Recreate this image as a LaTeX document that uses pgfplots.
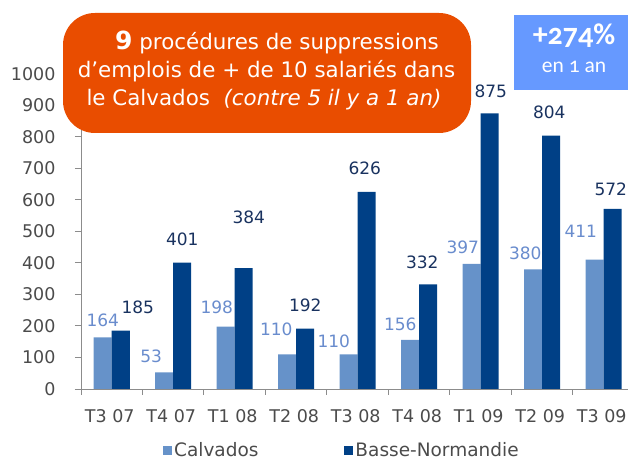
\documentclass[border=0pt]{standalone}
\usepackage{fontspec}
\setmainfont{DejaVu Sans}
\newfontfamily\carlito[Numbers=OldStyle]{Carlito}
\usepackage{pgfplots}
\usepackage{pgfplotstable}
\pgfplotsset{compat=1.18}
\definecolor{calv}{RGB}{102,146,201}
\definecolor{bn}{RGB}{0,64,134}
\definecolor{calvlab}{RGB}{105,140,205}
\definecolor{bnlab}{RGB}{25,50,95}
\definecolor{axisgray}{RGB}{140,140,140}
\definecolor{ticktext}{RGB}{75,75,75}
\definecolor{orangebox}{RGB}{233,77,0}
\definecolor{bluebox}{RGB}{102,153,255}
% x = quarter index, y = value, dx/dy = label offset (bp) from bar top
\pgfplotstableread{
x y dx dy
0 164 0 17
1 53 -13 16
2 198 -9 19
3 110 -11 25
4 110 -15 13
5 156 -10 16
6 397 -9 17
7 380 -8 16
8 411 -14 28
}\calvados
\pgfplotstableread{
x y dx dy
0 185 17 23
1 401 0 23
2 384 5 51
3 192 0 23
4 626 -2 23
5 332 -6 22
6 875 1 22
7 804 -2 23
8 572 -2 20
}\bassenormandie
\begin{document}
\begin{tikzpicture}
\path[use as bounding box] (0,0) rectangle (628bp,460bp);
\begin{axis}[
  at={(81bp,71bp)}, anchor=south west,
  scale only axis, width=553.5bp, height=315bp,
  xmin=-0.5, xmax=8.5, ymin=0, ymax=1000,
  axis lines*=left,
  axis line style={-, draw=axisgray, line width=1bp},
  x axis line style={-, shorten <=-6bp}, y axis line style={-},
  ytick={0,100,...,1000},
  xtick={0,...,8},
  xticklabels={T3 07,T4 07,T1 08,T2 08,T3 08,T4 08,T1 09,T2 09,T3 09},
  xtick style={draw=none},
  extra x ticks={-0.5,0.5,...,8.5},
  extra x tick labels={},
  extra x tick style={xtick style={draw=axisgray, line width=1bp}},
  tick align=outside, major tick length=6bp,
  ytick style={draw=axisgray, line width=1bp},
  tick label style={font=\fontsize{17.5bp}{20bp}\selectfont, text=ticktext},
  yticklabel style={xshift=-16bp},
  xticklabel style={yshift=-11bp, xshift=-2bp},
  /pgf/number format/assume math mode=true,
  /pgf/number format/1000 sep={},
  ybar=0pt, bar width=18bp,
  nodes near coords,
  nodes near coords style={font=\fontsize{17bp}{20bp}\selectfont},
  visualization depends on={\thisrow{dx}\as\labdx},
  visualization depends on={\thisrow{dy}\as\labdy},
  every node near coord/.append style={anchor=center, inner sep=0pt,
    xshift=\labdx bp, yshift=\labdy bp},
  legend style={at={(0.1426,-0.195)}, anchor=west, draw=none, fill=none,
    legend columns=2, font=\fontsize{18.5bp}{21bp}\selectfont, text=ticktext,
    /tikz/every even column/.append style={column sep=84bp}},
  legend image code/.code={\fill[#1] (0bp,-4.5bp) rectangle (9bp,4.5bp);},
]
\addplot[fill=calv, draw=none,
  every node near coord/.append style={text=calvlab}]
  table[x=x, y=y] {\calvados};
\addlegendentry{Calvados}
\addplot[fill=bn, draw=none,
  every node near coord/.append style={text=bnlab}]
  table[x=x, y=y] {\bassenormandie};
\addlegendentry{Basse-Normandie}
\end{axis}
\fill[orangebox, rounded corners=32bp] (63bp,327bp) rectangle (471bp,447bp);
\node[anchor=base, text=white, inner sep=0pt, font=\fontsize{21.4bp}{25bp}\selectfont] at (277bp,410bp) {{\bfseries\fontsize{25bp}{25bp}\selectfont 9} procédures de suppressions};
\node[anchor=base, text=white, inner sep=0pt, font=\fontsize{21.4bp}{25bp}\selectfont] at (266.5bp,382bp) {d’emplois de + de 10 salariés dans};
\node[anchor=base, text=white, inner sep=0pt, font=\fontsize{21.4bp}{25bp}\selectfont] at (264bp,354bp) {le Calvados\ \ \textit{(contre 5 il y a 1 an)}};
\fill[bluebox] (514bp,370bp) rectangle (640bp,445bp);
\node[anchor=base, text=white, inner sep=0pt, font=\carlito\bfseries\fontsize{30bp}{34bp}\selectfont] at (574bp,415bp) {+274\%};
\node[anchor=base, text=white, inner sep=0pt, font=\carlito\fontsize{21.5bp}{25bp}\selectfont] at (574bp,387bp) {en 1 an};
\end{tikzpicture}
\end{document}
